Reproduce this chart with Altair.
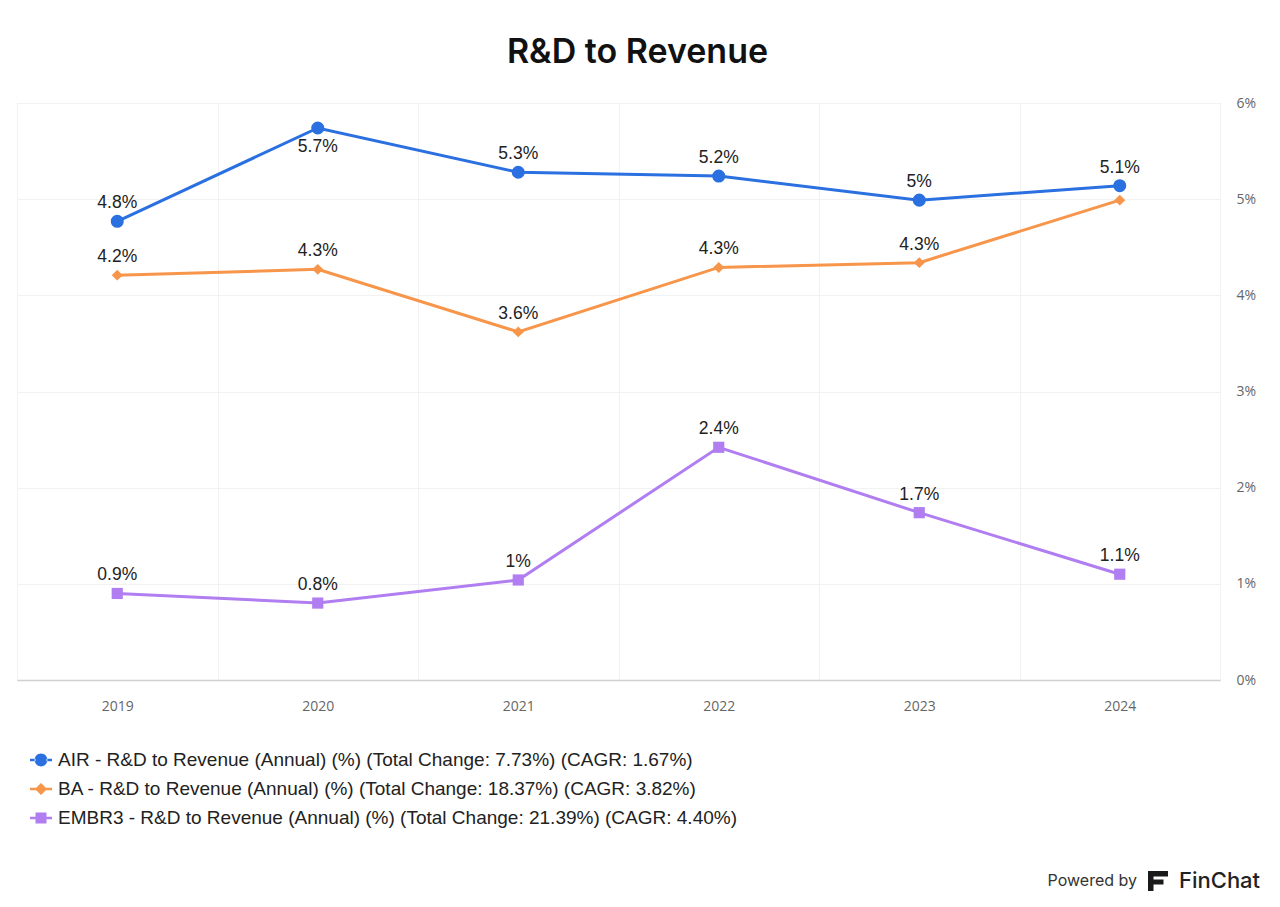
import altair as alt
import pandas as pd

years = ["2019", "2020", "2021", "2022", "2023", "2024"]
air = [4.77, 5.74, 5.28, 5.24, 4.99, 5.14]
ba = [4.21, 4.27, 3.62, 4.29, 4.34, 4.99]
embr = [0.90, 0.80, 1.04, 2.42, 1.74, 1.10]

series_names = [
    "AIR - R&D to Revenue (Annual) (%) (Total Change: 7.73%) (CAGR: 1.67%)",
    "BA - R&D to Revenue (Annual) (%) (Total Change: 18.37%) (CAGR: 3.82%)",
    "EMBR3 - R&D to Revenue (Annual) (%) (Total Change: 21.39%) (CAGR: 4.40%)",
]
tickers = ["AIR", "BA", "EMBR3"]
colors = ["#2b70e0", "#f7954a", "#b07ef0"]
markers = ["circle", "diamond", "square"]

rows = []
for name, tk, vals in zip(series_names, tickers, [air, ba, embr]):
    for y, v in zip(years, vals):
        rows.append({"year": y, "value": v, "series": name, "ticker": tk})
df = pd.DataFrame(rows)

legend_paths = [
    "M-1,-0.12 H-0.5 V0.12 H-1 Z M0.5,-0.12 H1 V0.12 H0.5 Z M-0.58,0 A0.58,0.58 0 1,0 0.58,0 A0.58,0.58 0 1,0 -0.58,0 Z",
    "M-1,-0.12 H-0.45 V0.12 H-1 Z M0.45,-0.12 H1 V0.12 H0.45 Z M0,-0.55 L0.55,0 L0,0.55 L-0.55,0 Z",
    "M-1,-0.12 H-0.45 V0.12 H-1 Z M0.45,-0.12 H1 V0.12 H0.45 Z M-0.5,-0.5 H0.5 V0.5 H-0.5 Z",
]

x_enc = alt.X(
    "year:O",
    scale=alt.Scale(paddingInner=0, paddingOuter=0),
    axis=alt.Axis(
        title=None, labelAngle=0, tickBand="extent", grid=True, gridColor="#f2f2f2",
        ticks=False, domain=True, domainColor="#d0d0d0", domainWidth=1.5,
        labelFont="Open Sans", labelFontSize=14, labelColor="#666666", labelPadding=19,
    ),
)
y_enc = alt.Y(
    "value:Q",
    scale=alt.Scale(domain=[0, 6], nice=False),
    axis=alt.Axis(
        title=None, orient="right", values=[0, 1, 2, 3, 4, 5, 6], labelExpr="datum.value + '%'",
        grid=True, gridColor="#f2f2f2", ticks=False, domain=False,
        labelFont="Open Sans", labelFontSize=14, labelColor="#666666", labelPadding=16,
    ),
)
color_scale = alt.Scale(domain=series_names, range=colors)

leg = alt.Legend(
    title=None, orient="none", legendX=13, legendY=646, symbolSize=484,
    symbolOpacity=1, labelFont="Liberation Sans", labelFontSize=19,
    labelColor="#222222", labelLimit=0, rowPadding=8, labelOffset=6,
    symbolStrokeWidth=0,
)
color_enc = alt.Color("series:N", scale=color_scale, legend=leg)

base = alt.Chart(df)

lines = base.mark_line(strokeWidth=3).encode(x=x_enc, y=y_enc, color=color_enc)

point_layers = []
for tk, shp, sz in zip(tickers, markers, [170, 120, 125]):
    point_layers.append(
        base.transform_filter(alt.datum.ticker == tk)
        .mark_point(shape=shp, filled=True, opacity=1, size=sz)
        .encode(x=x_enc, y=y_enc, color=color_enc)
    )

legend_layer = base.mark_point(filled=True, opacity=0, size=484).encode(
    x=x_enc,
    y=y_enc,
    color=color_enc,
    shape=alt.Shape("series:N", scale=alt.Scale(domain=series_names, range=legend_paths), legend=leg),
)

label_expr = "toString(round(datum.value * 10) / 10) + '%'"
labels_above = (
    base.transform_filter("!(datum.ticker == 'AIR' && datum.year == '2020') && !(datum.ticker == 'BA' && datum.year == '2024')")
    .transform_calculate(lab=label_expr)
    .mark_text(font="Liberation Sans", fontSize=17.5, color="#222222", dy=-18)
    .encode(x=x_enc, y=y_enc, text="lab:N")
)
labels_below = (
    base.transform_filter("datum.ticker == 'AIR' && datum.year == '2020'")
    .transform_calculate(lab=label_expr)
    .mark_text(font="Liberation Sans", fontSize=17.5, color="#222222", dy=19)
    .encode(x=x_enc, y=y_enc, text="lab:N")
)

brand = pd.DataFrame({"a": [1]})
powered = alt.Chart(brand).mark_text(
    font="Inter", fontSize=16, color="#333333", align="right", baseline="middle"
).encode(x=alt.value(1120), y=alt.value(778), text=alt.value("Powered by"))
finchat = alt.Chart(brand).mark_text(
    font="Inter", fontSize=22, fontWeight=500, color="#222222", align="left", baseline="middle"
).encode(x=alt.value(1162), y=alt.value(778), text=alt.value("FinChat"))
logo = alt.Chart(brand).mark_point(
    shape="M-1,-1 H1 V-0.45 H-1 Z M-1,-0.15 H0.55 V0.35 H-1 Z M-1,-1 H-0.45 V1 H-1 Z",
    filled=True, color="#1a1a1a", opacity=1, size=400,
).encode(x=alt.value(1141), y=alt.value(778))

chart = (
    alt.layer(lines, *point_layers, legend_layer, labels_above, labels_below, powered, finchat, logo)
    .properties(
        width=1203, height=577,
        autosize=alt.AutoSizeParams(type="none"),
        padding={"left": 9, "top": 95, "right": 52, "bottom": 219},
        title=alt.TitleParams(
            "R&D to Revenue", font="Inter", fontSize=34, fontWeight=600, color="#111111",
            anchor="middle", dx=19, offset=26,
        ),
    )
    .configure_view(strokeWidth=0)
    .configure(background="white")
)

chart.save("out.html", embed_options={"renderer": "svg", "actions": False})
